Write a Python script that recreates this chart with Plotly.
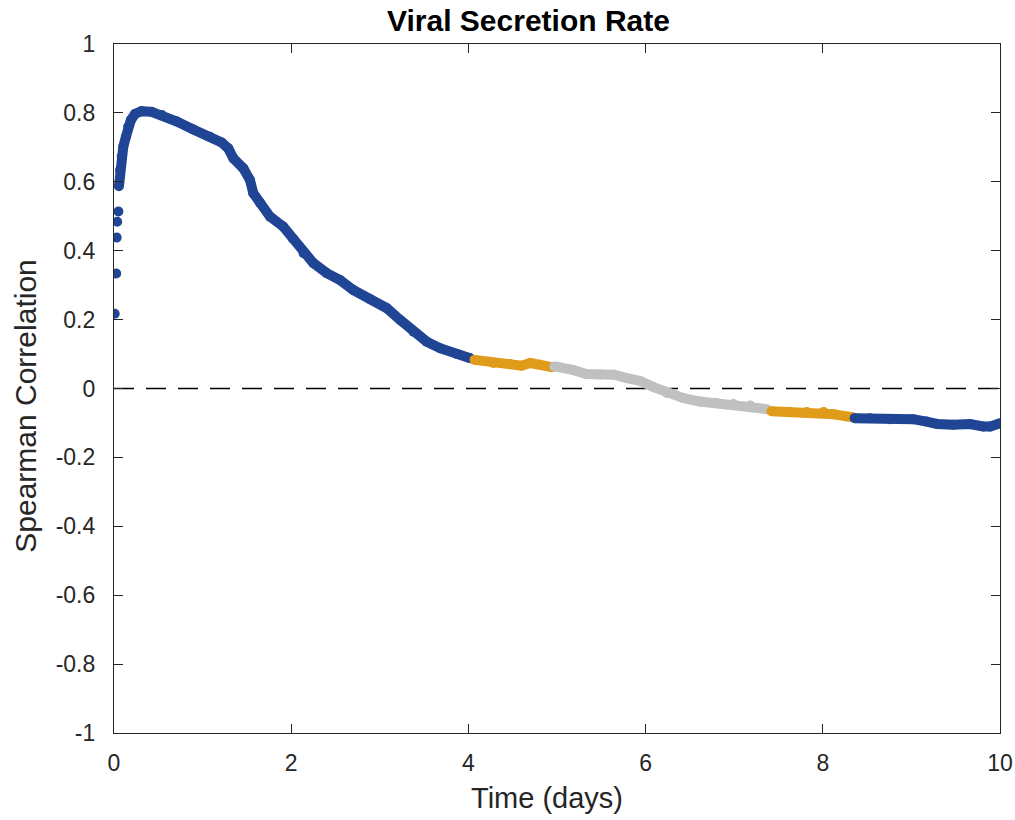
import plotly.graph_objects as go

# ---- data ----
t_early = [0.008, 0.025, 0.030, 0.036, 0.050]
r_early = [0.217, 0.334, 0.438, 0.484, 0.514]

t_blue1 = [0.056, 0.068, 0.087, 0.105, 0.135, 0.16, 0.19, 0.237, 0.31, 0.425,
           0.54, 0.71, 0.895, 1.083, 1.215, 1.29, 1.347, 1.46, 1.535, 1.572,
           1.65, 1.76, 1.91, 2.02, 2.14, 2.25, 2.40, 2.55, 2.70, 2.89,
           3.08, 3.23, 3.38, 3.53, 3.68, 3.87, 4.02]
r_blue1 = [0.587, 0.634, 0.673, 0.702, 0.731, 0.760, 0.779, 0.797, 0.805, 0.803,
           0.794, 0.775, 0.752, 0.731, 0.714, 0.697, 0.668, 0.639, 0.605, 0.567,
           0.538, 0.499, 0.470, 0.435, 0.393, 0.364, 0.335, 0.315, 0.286, 0.259,
           0.233, 0.199, 0.165, 0.136, 0.117, 0.100, 0.088]

t_orange1 = [4.07, 4.28, 4.47, 4.60, 4.70, 4.81, 4.94]
r_orange1 = [0.083, 0.074, 0.071, 0.066, 0.074, 0.069, 0.062]

t_gray = [4.97, 5.03, 5.18, 5.33, 5.49, 5.64, 5.79, 5.94, 6.09, 6.24,
          6.43, 6.61, 6.80, 6.99, 7.18, 7.37]
r_gray = [0.064, 0.062, 0.054, 0.042, 0.040, 0.040, 0.030, 0.022, 0.004, -0.013,
          -0.028, -0.038, -0.042, -0.045, -0.049, -0.060]

t_orange2 = [7.42, 7.63, 7.82, 8.01, 8.12, 8.27, 8.33]
r_orange2 = [-0.066, -0.068, -0.068, -0.068, -0.075, -0.081, -0.083]

t_blue2 = [8.36, 8.53, 8.76, 9.02, 9.17, 9.29, 9.47, 9.66, 9.81, 9.89, 10.0]
r_blue2 = [-0.086, -0.086, -0.089, -0.089, -0.096, -0.103, -0.105, -0.103, -0.110, -0.110, -0.101]

x_ticks = [0, 2, 4, 6, 8, 10]
x_ticktext = ["0", "2", "4", "6", "8", "10"]
y_ticks = [-1, -0.8, -0.6, -0.4, -0.2, 0, 0.2, 0.4, 0.6, 0.8, 1]
y_ticktext = ["-1", "-0.8", "-0.6", "-0.4", "-0.2", "0", "0.2", "0.4", "0.6", "0.8", "1"]

BLUE = "rgb(31,69,148)"
ORANGE = "rgb(224,155,26)"
GRAY = "rgb(192,192,192)"
AX = "rgb(38,38,38)"
MS = 10

fig = go.Figure()

# zero reference line
fig.add_trace(go.Scatter(x=[0, 10], y=[0, 0], mode="lines",
                         line=dict(color="black", width=1.3, dash="20px,12px"),
                         hoverinfo="skip", showlegend=False))

fig.add_trace(go.Scatter(x=t_early, y=r_early, mode="markers",
                         marker=dict(color=BLUE, size=MS), showlegend=False))

for tx, ry, col in [(t_blue1, r_blue1, BLUE), (t_orange1, r_orange1, ORANGE),
                    (t_gray, r_gray, GRAY), (t_orange2, r_orange2, ORANGE),
                    (t_blue2, r_blue2, BLUE)]:
    fig.add_trace(go.Scatter(x=tx, y=ry, mode="lines+markers",
                             line=dict(color=col, width=MS),
                             marker=dict(color=col, size=MS),
                             showlegend=False))

axis_common = dict(showline=True, linecolor=AX, linewidth=1.2, mirror="ticks",
                   ticks="inside", ticklen=9, tickwidth=1.2, tickcolor=AX,
                   showgrid=False, zeroline=False,
                   tickfont=dict(family="Liberation Sans", size=23, color=AX))

fig.update_xaxes(range=[0, 10], tickmode="array", tickvals=x_ticks,
                 ticktext=x_ticktext, ticklabelstandoff=9, **axis_common)
fig.update_yaxes(range=[-1, 1], tickmode="array", tickvals=y_ticks,
                 ticktext=y_ticktext, ticklabelstandoff=13, **axis_common)

fig.update_layout(
    width=1015, height=820,
    margin=dict(l=114, r=15, t=44, b=86.5, autoexpand=False),
    plot_bgcolor="white", paper_bgcolor="white",
    annotations=[
        dict(text="<b>Viral Secretion Rate</b>", xref="paper", yref="paper",
             x=(528 - 114) / 886, y=1 + (44 - 20.5) / 689.5,
             xanchor="center", yanchor="middle", showarrow=False,
             font=dict(family="Liberation Sans", size=30, color="black")),
        dict(text="Time (days)", xref="paper", yref="paper",
             x=(547 - 114) / 886, y=-(799 - 733.5) / 689.5,
             xanchor="center", yanchor="middle", showarrow=False,
             font=dict(family="Liberation Sans", size=29, color=AX)),
        dict(text="Spearman Correlation", xref="paper", yref="paper",
             x=(26 - 114) / 886, y=(733.5 - 407) / 689.5, textangle=-90,
             xanchor="center", yanchor="middle", showarrow=False,
             font=dict(family="Liberation Sans", size=30, color=AX)),
    ],
)

fig.write_html(
    "out.html",
    config={"displayModeBar": False},
    post_script="document.body.style.margin='0';document.body.style.overflow='hidden';",
)
